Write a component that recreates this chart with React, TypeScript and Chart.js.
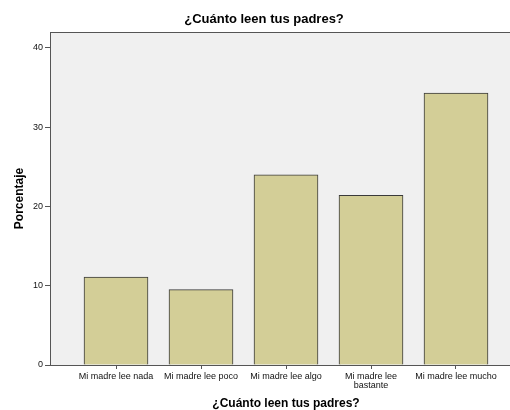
import React, { useEffect, useRef } from 'react';
import { Chart, registerables } from 'chart.js';

Chart.register(...registerables);

const chartTitle = '¿Cuánto leen tus padres?';
const xAxisTitle = '¿Cuánto leen tus padres?';
const yAxisTitle = 'Porcentaje';
const categories: (string | string[])[] = [
  'Mi madre lee nada',
  'Mi madre lee poco',
  'Mi madre lee algo',
  ['Mi madre lee', 'bastante'],
  'Mi madre lee mucho',
];
const percentages = [11.1, 9.5, 24.0, 21.4, 34.3];
const yTickValues = [0, 10, 20, 30, 40];
const yMax = 42;

const FONT = '"Liberation Sans", Arial, sans-serif';

const framePlugin = {
  id: 'frame',
  beforeDraw(chart: any) {
    const { ctx, chartArea, width, height } = chart;
    ctx.save();
    ctx.fillStyle = '#ffffff';
    ctx.fillRect(0, 0, width, height);
    ctx.fillStyle = '#f0f0f0';
    ctx.fillRect(chartArea.left, chartArea.top, chartArea.right - chartArea.left, chartArea.bottom - chartArea.top);
    ctx.strokeStyle = '#555555';
    ctx.lineWidth = 1;
    ctx.beginPath();
    ctx.moveTo(chartArea.left, chartArea.top + 0.5);
    ctx.lineTo(chartArea.right, chartArea.top + 0.5);
    ctx.stroke();
    ctx.restore();
  },
  afterDraw(chart: any) {
    const { ctx, chartArea } = chart;
    ctx.save();
    ctx.fillStyle = '#000000';
    ctx.textAlign = 'center';
    ctx.textBaseline = 'middle';
    ctx.font = `bold 13px ${FONT}`;
    ctx.fillText(chartTitle, 264, 19);
    ctx.font = `bold 12px ${FONT}`;
    ctx.fillText(xAxisTitle, (chartArea.left + chartArea.right) / 2 + 6, 404);
    ctx.restore();
  },
};

export default function App() {
  const ref = useRef<HTMLCanvasElement>(null);
  useEffect(() => {
    if (!ref.current) return;
    const chart = new Chart(ref.current, {
      type: 'bar',
      data: {
        datasets: [
          {
            data: percentages.map((v, i) => ({ x: i, y: v })),
            backgroundColor: '#d3ce97',
            borderColor: '#3a3a3a',
            borderWidth: 1,
            barThickness: 64,
          },
        ],
      },
      options: {
        responsive: false,
        animation: false,
        layout: { padding: { top: 32, left: 0, right: 0, bottom: 0 } },
        plugins: { legend: { display: false }, tooltip: { enabled: false }, title: { display: false } },
        scales: {
          x: {
            type: 'linear',
            offset: false,
            min: -0.7765,
            max: 4.6353,
            afterBuildTicks: (scale: any) => {
              scale.ticks = categories.map((_, i) => ({ value: i }));
            },
            afterFit: (scale: any) => {
              scale.height = 45;
            },
            ticks: {
              callback: (v: any) => categories[v as number],
              autoSkip: false,
              maxRotation: 0,
              padding: 3,
              color: '#111111',
              font: { family: FONT, size: 9, lineHeight: 1 },
            },
            grid: { offset: false, drawOnChartArea: false, drawTicks: true, tickLength: 4, color: '#555555' },
            border: { display: true, color: '#555555', width: 1 },
          },
          y: {
            type: 'linear',
            min: 0,
            max: yMax,
            afterBuildTicks: (scale: any) => {
              scale.ticks = yTickValues.map((v) => ({ value: v }));
            },
            afterFit: (scale: any) => {
              scale.width = 50;
            },
            ticks: {
              padding: 2,
              color: '#111111',
              font: { family: FONT, size: 9 },
            },
            grid: { drawOnChartArea: false, drawTicks: true, tickLength: 5, color: '#555555' },
            border: { display: true, color: '#555555', width: 1 },
            title: {
              display: true,
              text: yAxisTitle,
              color: '#000000',
              font: { family: FONT, size: 12, weight: 'bold' },
              padding: { top: 12, bottom: 0 },
            },
          },
        },
      },
      plugins: [framePlugin],
    } as any);
    return () => chart.destroy();
  }, []);
  return (
    <div style={{ position: 'fixed', left: 0, top: 0, width: 510, height: 410 }}>
      <canvas ref={ref} width={510} height={410} style={{ display: 'block' }} />
    </div>
  );
}
